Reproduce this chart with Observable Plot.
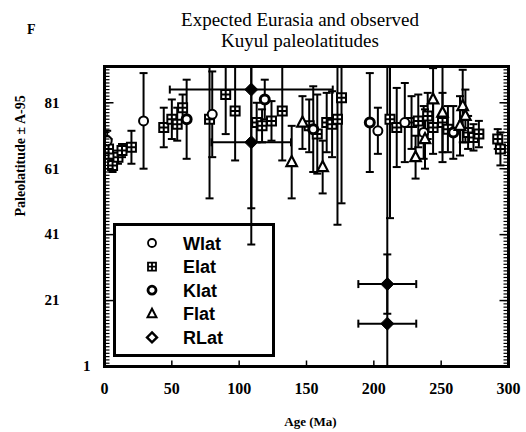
<!DOCTYPE html>
<html><head><meta charset="utf-8">
<script src="https://cdn.jsdelivr.net/npm/d3@7"></script>
<script src="https://cdn.jsdelivr.net/npm/@observablehq/plot@0.6"></script>
<style>
body{margin:0;background:#fff;}
#wrap{position:relative;width:526px;height:432px;overflow:hidden;}
#wrap svg{position:absolute;left:0;top:0;}
#title{position:absolute;left:150px;width:300px;top:9px;text-align:center;font-family:"Liberation Serif",serif;font-size:19px;line-height:21px;color:#000;}
#panel{position:absolute;left:27px;top:23px;font-family:"Liberation Serif",serif;font-weight:bold;font-size:14px;line-height:14px;}
</style></head><body>
<div id="wrap"></div>
<script>
// ---- data ----
const titleLines = ["Expected Eurasia and observed", "Kuyul paleolatitudes"];
const panelLabel = "F";
const xLabel = "Age (Ma)";
const yLabel = "Paleolatitude ± A-95";
const xTicks = [0, 50, 100, 150, 200, 250, 300];
const yTicks = [1, 21, 41, 61, 81];
const seriesNames = ["Wlat", "Elat", "Klat", "Flat", "RLat"];

const wAge = [2, 29, 80, 203, 223, 237];
const wLat = [69.5, 75.5, 77.5, 72.5, 75, 72];
const wErr = [3, 14.5, 13, 7, 12, 8];

const eAge = [3, 6, 10, 13, 20, 44, 50, 54, 58, 78, 90, 97, 113, 117, 124, 132, 152, 158, 165, 169, 173, 176, 212, 217, 228, 233, 240, 244, 251, 255, 270, 274, 278, 292, 294];
const eLat = [67, 62, 64.5, 66.5, 67.5, 73.5, 76, 74.5, 79.5, 76, 83.5, 78.5, 75, 74, 75.5, 78.5, 74, 71.5, 75, 74.5, 76, 82.5, 76, 73.5, 75, 75.5, 77, 73.5, 75, 73, 72, 70.5, 71.5, 70, 67];
const eErr = [3, 2, 2, 2, 5, 6, 6, 5, 4, 24, 12, 15, 6, 5, 6, 15, 8, 12, 9, 10, 32, 32, 30, 12, 8, 8, 7, 8, 9, 7, 5, 4, 4, 3, 5];

const kAge = [61, 119, 155, 197, 259];
const kLat = [76, 82, 73, 75, 72];
const kErr = [12, 6, 13, 15, 8];

const fAge = [139, 147, 162, 231, 238, 244, 251, 264, 266, 268];
const fLat = [63, 75, 61.5, 64.5, 70, 82, 78, 74, 80, 77];
const fErr = [11, 8, 8, 6.5, 9, 9.5, 15, 9, 11, 8];

const rAge = [109, 109, 210, 210];
const rLat = [85, 69, 26, 14];
const rErr = [36, 31, 9, 80];
const rAgeErr = [60.5, 29.5, 21.5, 21.5];

// ---- build rows ----
const rows = (ages, lats, errs, s) => ages.map((a, i) => ({age: a, lat: lats[i], err: errs[i], s}));
const W = rows(wAge, wLat, wErr, "Wlat");
const E = rows(eAge, eLat, eErr, "Elat");
const K = rows(kAge, kLat, kErr, "Klat");
const F = rows(fAge, fLat, fErr, "Flat");
const R = rows(rAge, rLat, rErr, "RLat").map((d, i) => ({...d, xerr: rAgeErr[i]}));
const all = [...W, ...E, ...K, ...F, ...R];
const caps = all.flatMap(d => [{age: d.age, lat: d.lat - d.err}, {age: d.age, lat: d.lat + d.err}]);
const hcaps = R.flatMap(d => [{age: d.age - d.xerr, lat: d.lat}, {age: d.age + d.xerr, lat: d.lat}]);

// ---- symbols ----
const rad = s => Math.sqrt(s / Math.PI);
const hcap = {draw(c, s){const r = rad(s); c.moveTo(-r, 0); c.lineTo(r, 0);}};
const vcap = {draw(c, s){const r = rad(s); c.moveTo(0, -r); c.lineTo(0, r);}};
const tickIn = {draw(c, s){const r = rad(s); c.moveTo(0, 0); c.lineTo(r, 0);}};
const tickInR = {draw(c, s){const r = rad(s); c.moveTo(0, 0); c.lineTo(-r, 0);}};
const tickUp = {draw(c, s){const r = rad(s); c.moveTo(0, 0); c.lineTo(0, -r);}};
const sqCross = {draw(c, s){const r = rad(s); c.moveTo(-r, -r); c.lineTo(r, -r); c.lineTo(r, r); c.lineTo(-r, r); c.closePath(); c.moveTo(-r, 0); c.lineTo(r, 0); c.moveTo(0, -r); c.lineTo(0, r);}};
const tri = {draw(c, s){const r = rad(s); c.moveTo(0, -r * 1.2); c.lineTo(r * 1.05, r * 0.8); c.lineTo(-r * 1.05, r * 0.8); c.closePath();}};
const dia = {draw(c, s){const r = rad(s); c.moveTo(0, -r); c.lineTo(r, 0); c.lineTo(0, r); c.lineTo(-r, 0); c.closePath();}};

const serifB = {fontFamily: "Liberation Serif", fontWeight: "bold", fill: "black"};

const chart = Plot.plot({
  width: 526, height: 432,
  marginLeft: 104, marginRight: 18, marginTop: 66, marginBottom: 66,
  x: {domain: [0, 300], axis: null},
  y: {domain: [1, 92], axis: null},
  style: {background: "transparent", fontFamily: "Liberation Serif", color: "black"},
  marks: [
    Plot.ruleX(all, {x: "age", y1: d => d.lat - d.err, y2: d => d.lat + d.err, stroke: "black", strokeWidth: 2, clip: true}),
    Plot.dot(caps, {x: "age", y: "lat", symbol: hcap, r: 4, stroke: "black", strokeWidth: 2, clip: true}),
    Plot.ruleY(R, {y: "lat", x1: d => d.age - d.xerr, x2: d => d.age + d.xerr, stroke: "black", strokeWidth: 2, clip: true}),
    Plot.dot(hcaps, {x: "age", y: "lat", symbol: vcap, r: 4, stroke: "black", strokeWidth: 2, clip: true}),
    Plot.dot(E, {x: "age", y: "lat", symbol: sqCross, r: 4.5, fill: "white", stroke: "black", strokeWidth: 2, clip: true}),
    Plot.dot(W, {x: "age", y: "lat", symbol: "circle", r: 4.5, fill: "white", stroke: "black", strokeWidth: 2, clip: true}),
    Plot.dot(K, {x: "age", y: "lat", symbol: "circle", r: 4.5, fill: "white", stroke: "black", strokeWidth: 3, clip: true}),
    Plot.dot(F, {x: "age", y: "lat", symbol: tri, r: 5, fill: "white", stroke: "black", strokeWidth: 2.2, clip: true}),
    Plot.dot(R, {x: "age", y: "lat", symbol: dia, r: 6.5, fill: "black", stroke: "black", strokeWidth: 1, clip: true}),
    // axis ticks
    Plot.dot(d3.range(1, 93), {y: d => d, frameAnchor: "left", symbol: tickIn, r: 5, stroke: "black", strokeWidth: 1.2}),
    Plot.dot(d3.range(1, 93), {y: d => d, frameAnchor: "right", symbol: tickInR, r: 5, stroke: "black", strokeWidth: 1.2}),
    Plot.dot(yTicks, {y: d => d, frameAnchor: "left", symbol: tickIn, r: 9, stroke: "black", strokeWidth: 1.5}),
    Plot.dot(yTicks, {y: d => d, frameAnchor: "right", symbol: tickInR, r: 9, stroke: "black", strokeWidth: 1.5}),
    Plot.dot(xTicks, {x: d => d, frameAnchor: "bottom", symbol: tickUp, r: 6, stroke: "black", strokeWidth: 1.5}),
    Plot.frame({stroke: "black", strokeWidth: 3}),
    // tick labels
    Plot.text(yTicks.filter(v => v > 1), {y: d => d, text: d => String(d), frameAnchor: "left", dx: -45, textAnchor: "end", fontSize: 15, ...serifB}),
    Plot.text(yTicks.filter(v => v === 1), {y: d => d, text: d => String(d), frameAnchor: "left", dx: -14, textAnchor: "end", fontSize: 15, ...serifB}),
    Plot.text(xTicks, {x: d => d, text: d => String(d), frameAnchor: "bottom", dy: 27, fontSize: 16, ...serifB}),
    Plot.text([xLabel], {text: d => d, frameAnchor: "bottom", dx: 4, dy: 59, fontSize: 13, ...serifB}),
    Plot.text([yLabel], {text: d => d, frameAnchor: "left", dx: -84, rotate: -90, fontSize: 14, ...serifB})
  ]
});
const wrap = document.getElementById("wrap");
wrap.appendChild(chart);

// title and panel letter
const t = document.createElement("div"); t.id = "title"; t.innerHTML = titleLines.join("<br>"); wrap.appendChild(t);
const p = document.createElement("div"); p.id = "panel"; p.textContent = panelLabel; wrap.appendChild(p);

// legend
const lg = d3.select(wrap).append("svg").attr("width", 526).attr("height", 432);
lg.append("rect").attr("x", 114.5).attr("y", 224.5).attr("width", 159).attr("height", 131)
  .attr("fill", "none").attr("stroke", "black").attr("stroke-width", 3);
const legSyms = [
  {sym: d3.symbolCircle, size: Math.PI * 16, sw: 1.8},
  {sym: sqCross, size: Math.PI * 16, sw: 1.8},
  {sym: d3.symbolCircle, size: Math.PI * 16, sw: 2.8},
  {sym: tri, size: Math.PI * 18, sw: 2},
  {sym: dia, size: Math.PI * 25, sw: 2.4}
];
seriesNames.forEach((name, i) => {
  const cy = 243 + i * 23.6;
  const s = legSyms[i];
  lg.append("path").attr("transform", `translate(152,${cy})`).attr("d", d3.symbol(s.sym, s.size)())
    .attr("fill", "none").attr("stroke", "black").attr("stroke-width", s.sw);
  lg.append("text").attr("x", 183).attr("y", cy + 6.5).text(name)
    .attr("font-family", "Liberation Sans").attr("font-weight", "bold").attr("font-size", 18);
});
</script>
</body></html>
